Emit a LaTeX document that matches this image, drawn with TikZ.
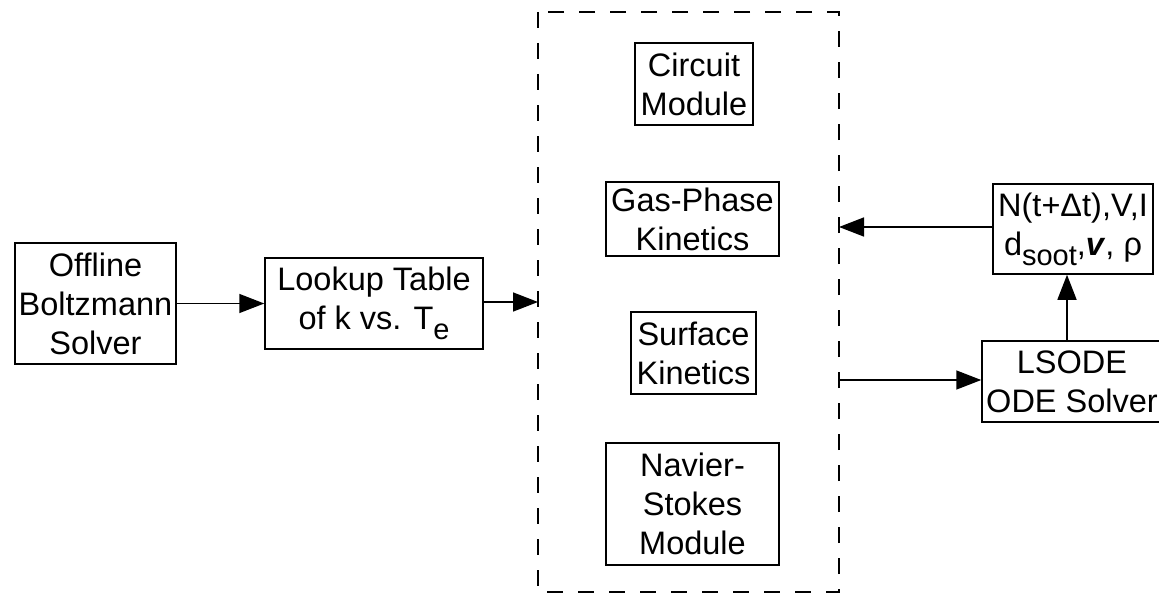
\documentclass[tikz,border=0pt]{standalone}
\usepackage{fontspec}
\setmainfont{Liberation Sans}
\usetikzlibrary{arrows.meta}
\newcommand{\lowsub}[1]{\raisebox{-10pt}{\fontsize{29}{29}\selectfont #1}}
\begin{document}
\begin{tikzpicture}[
  x=1pt, y=-1pt,
  box/.style={draw, line width=1.5pt, align=center, inner sep=0pt},
  every node/.style={font=\fontsize{32.5}{39}\selectfont},
  >={Triangle[length=25pt, width=19pt]},
  link/.style={->, line width=1.5pt}
]
\clip (0,0) rectangle (1159,594);
\node[box, minimum width=161, minimum height=121] (b) at (95.5,303.5) {Offline\\Boltzmann\\Solver};
\node[box, minimum width=218, minimum height=91] (l) at (374,303.5) {Lookup Table\\of k vs. T\lowsub{e}};
% solver modules
\draw[line width=1.5pt, dash pattern=on 16pt off 15pt] (538,12) rectangle (839,592);
\node[box, minimum width=118, minimum height=82] (c) at (694,84) {Circuit\\Module};
\node[box, minimum width=173, minimum height=74] (g) at (692.5,219) {Gas-Phase\\Kinetics};
\node[box, minimum width=125, minimum height=82] (s) at (693.5,353) {Surface\\Kinetics};
\node[box, minimum width=173, minimum height=122] (n) at (692.5,504) {Navier-\\Stokes\\Module};
\node[box, minimum width=160, minimum height=90] (r) at (1073,229) {N(t+Δt),V,I\\d\lowsub{soot},\textbf{\textit{v}}, ρ};
\node[box, minimum width=180, minimum height=81] (o) at (1072,381.5) {LSODE\\ODE Solver};
\coordinate (in) at (538,302);
\coordinate (back) at (839,227);
\coordinate (out) at (839,380);
\draw[link] (b) -- (l);
\draw[link] (l.east |- in) -- (in);
\draw[link] (r.west |- back) -- (back);
\draw[link] (out) -- (o.west |- out);
\draw[link] ([xshift=-6pt]r.south |- o.north) -- ([xshift=-6pt]r.south);
\end{tikzpicture}
\end{document}
